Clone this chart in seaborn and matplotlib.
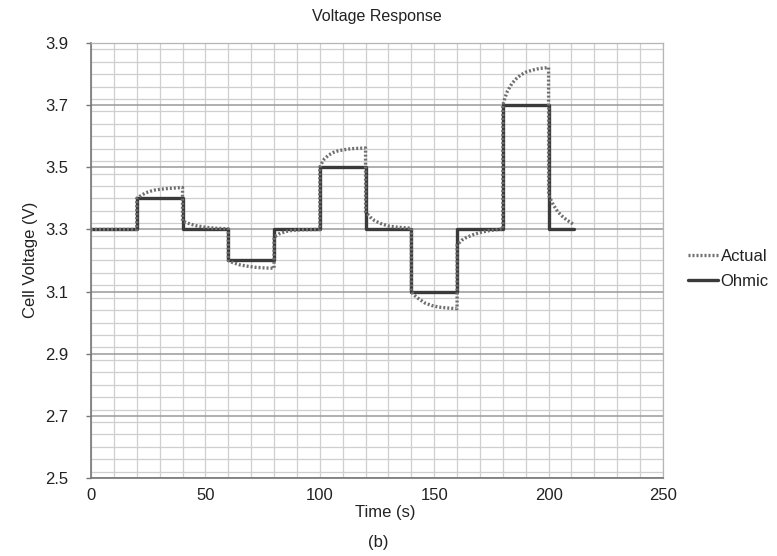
import matplotlib
matplotlib.use("Agg")
import matplotlib.pyplot as plt
from matplotlib.ticker import MultipleLocator
import seaborn as sns
import pandas as pd

# ---- data ----
ohmic_time = [0, 20, 40, 60, 80, 100, 120, 140, 160, 180, 200, 211]
ohmic_volt = [3.30, 3.40, 3.30, 3.20, 3.30, 3.50, 3.30, 3.10, 3.30, 3.70, 3.30, 3.30]

actual_time = [0, 20, 20, 22, 24, 26, 28, 30, 34, 38, 40,
               40, 42, 44, 46, 50, 54, 60,
               60, 62, 65, 68, 72, 76, 80,
               80, 82, 85, 88, 92, 100,
               100, 101, 102, 104, 106, 108, 111, 114, 117, 120,
               120, 122, 124, 127, 130, 134, 140,
               140, 141, 143, 146, 149, 152, 156, 160,
               160, 162, 164, 167, 170, 174, 178, 180,
               180, 181, 182, 184, 186, 188, 190, 193, 196, 200,
               200, 202, 204, 206, 208, 211]
actual_volt = [3.300, 3.300, 3.400, 3.410, 3.418, 3.423, 3.427, 3.429, 3.432, 3.434, 3.435,
               3.327, 3.321, 3.316, 3.312, 3.307, 3.304, 3.302,
               3.200, 3.193, 3.186, 3.182, 3.178, 3.176, 3.175,
               3.275, 3.285, 3.293, 3.297, 3.299, 3.300,
               3.500, 3.515, 3.527, 3.540, 3.548, 3.553, 3.557, 3.560, 3.561, 3.562,
               3.357, 3.340, 3.328, 3.318, 3.311, 3.307, 3.304,
               3.100, 3.090, 3.078, 3.063, 3.055, 3.050, 3.047, 3.045,
               3.250, 3.265, 3.274, 3.283, 3.290, 3.296, 3.300, 3.302,
               3.700, 3.725, 3.745, 3.770, 3.786, 3.798, 3.806, 3.813, 3.818, 3.821,
               3.410, 3.380, 3.357, 3.342, 3.330, 3.316]

x_ticks = [0, 50, 100, 150, 200, 250]
y_ticks = [2.5, 2.7, 2.9, 3.1, 3.3, 3.5, 3.7, 3.9]

sns.set_theme(style="white")
plt.rcParams['font.family'] = ['Liberation Sans', 'DejaVu Sans']

fig = plt.figure(figsize=(7.77, 5.56), dpi=100)
ax = fig.add_axes([91/777, 1 - 478/556, (663 - 91)/777, (478 - 43)/556])

df_ohm = pd.DataFrame({"t": ohmic_time, "v": ohmic_volt})
df_act = pd.DataFrame({"t": actual_time, "v": actual_volt})

sns.lineplot(data=df_ohm, x="t", y="v", ax=ax, estimator=None, sort=False,
             drawstyle="steps-post", color="#3a3a3a", linewidth=2.4,
             label="Ohmic", zorder=3)
sns.lineplot(data=df_act, x="t", y="v", ax=ax, estimator=None, sort=False,
             color="#6f6f6f", linewidth=2.4, linestyle=(0, (0.6, 0.6)),
             label="Actual", zorder=4)

ax.set_xlim(0, 250)
ax.set_ylim(2.5, 3.9)
ax.set_xticks(x_ticks)
ax.set_yticks(y_ticks)
ax.set_xticklabels([str(v) for v in x_ticks])
ax.set_yticklabels([f"{v:.1f}" for v in y_ticks])
ax.xaxis.set_minor_locator(MultipleLocator(10))
ax.yaxis.set_minor_locator(MultipleLocator(0.04))

ax.grid(which="major", axis="y", color="#9a9a9a", linewidth=1.1)
ax.grid(which="minor", axis="y", color="#cfcfcf", linewidth=0.9)
ax.grid(which="both", axis="x", color="#cfcfcf", linewidth=0.9)
ax.set_axisbelow(True)

for side in ["top", "right"]:
    ax.spines[side].set_visible(True)
    ax.spines[side].set_color("#b5b5b5")
    ax.spines[side].set_linewidth(0.9)
for side in ["left", "bottom"]:
    ax.spines[side].set_color("#777777")
    ax.spines[side].set_linewidth(1.2)

ax.tick_params(axis="y", which="major", left=True, length=3.6, width=1, color="#777777",
               pad=13, labelsize=12, labelcolor="#222222")
ax.tick_params(axis="y", which="minor", left=False, length=0)
ax.tick_params(axis="x", which="both", bottom=False, length=0, pad=7,
               labelsize=12, labelcolor="#222222")

ax.set_xlabel("")
ax.set_ylabel("")
fig.text(385/777, 1 - 512/556, "Time (s)", ha="center", va="center",
         fontsize=12, color="#222222")
fig.text(31/777, 1 - 260/556, "Cell Voltage (V)", ha="center", va="center",
         rotation=90, fontsize=12, color="#222222")
fig.text(377/777, 1 - 17/556, "Voltage Response", ha="center", va="center",
         fontsize=11.5, color="#222222")
fig.text(378/777, 1 - 543/556, "(b)", ha="center", va="center",
         fontsize=12, color="#222222")

handles, labels = ax.get_legend_handles_labels()
order = [labels.index("Actual"), labels.index("Ohmic")]
ax.legend([handles[i] for i in order], [labels[i] for i in order],
          loc="center left", bbox_to_anchor=(688/777, 1 - 269/556),
          bbox_transform=fig.transFigure, frameon=False, fontsize=12,
          handlelength=1.8, handletextpad=0.15, labelspacing=0.6, borderpad=0,
          borderaxespad=0, labelcolor="#222222")

fig.savefig("out.png", dpi=100, facecolor="white")
